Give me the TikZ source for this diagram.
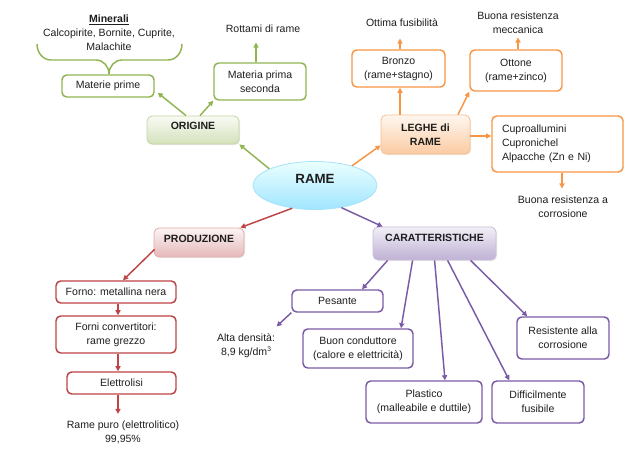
\documentclass[tikz,border=0pt]{standalone}
\usepackage{fontspec}
\setmainfont{Liberation Sans}
\usetikzlibrary{arrows.meta,calc,shapes.geometric,shadows}
\definecolor{txt}{HTML}{1E1E1E}
\definecolor{gr}{HTML}{92B553}
\definecolor{org}{HTML}{F79646}
\definecolor{rd}{HTML}{BE4446}
\definecolor{pu}{HTML}{7A5CA6}
\begin{document}
\begin{tikzpicture}[x=0.75pt,y=-0.75pt,
  every node/.style={text=txt, font=\fontsize{7.9}{10.5}\selectfont},
  sz/.style 2 args={minimum width=#1*0.75pt,minimum height=#2*0.75pt,inner sep=0pt},
  box/.style={draw, rounded corners=3.5pt, line width=1.1pt, align=center, fill=white},
  gbox/.style={box, draw=gr},
  obox/.style={box, draw=org},
  rbox/.style={box, draw=rd},
  pbox/.style={box, draw=pu},
  head/.style={rounded corners=3.8pt, line width=0.6pt, align=center,
    font=\fontsize{7.9}{10.5}\selectfont\bfseries,
    drop shadow={shadow xshift=0.8pt,shadow yshift=-0.8pt,opacity=0.18}},
  up/.style={text height=5.7pt,text depth=#1},
  lbl/.style={align=center, inner sep=1pt},
  arr/.style={line width=1.1pt, -{Triangle[length=3.8pt,width=3.8pt]}},
]
\useasboundingbox (0,0) rectangle (640,452);
\fill[white] (0,0) rectangle (640,452);

% central node
\node[ellipse, sz={124}{48}, draw=cyan!35!white, line width=0.6pt,
  top color=cyan!8!white, bottom color=cyan!30!white!90!blue,
  font=\fontsize{10}{12}\selectfont\bfseries, text height=7.2pt, text depth=10.5pt]
  (rame) at (315,185.5) {RAME};

% ORIGINE branch
\node[head, sz={92}{28}, up=5.7pt, draw=gr!55!white, top color=gr!6!white, bottom color=gr!40!white] (origine) at (193,130) {ORIGINE};
\node[gbox, sz={92}{22}] (matpri) at (108,86) {Materie prime};
\node[gbox, sz={92}{37}] (matsec) at (260,81.5) {Materia prima\\seconda};
\node[lbl] (minerali) at (109,33) {\underline{\textbf{Minerali}}\\Calcopirite, Bornite, Cuprite,\\Malachite};
\node[lbl] (rottami) at (263,29) {Rottami di rame};
\draw[gr, line width=1.1pt] (37,44) to[out=-90,in=180] (51,60) -- (96,60) to[out=0,in=90] (109,74)
  (182,44) to[out=-90,in=0] (168,60) -- (122,60) to[out=180,in=90] (109,74);

% LEGHE branch
\node[head, sz={89}{39}, draw=org!60!white, top color=org!8!white, bottom color=org!50!white] (leghe) at (425.5,134.5) {LEGHE di\\RAME};
\node[obox, sz={93}{37}] (bronzo) at (398.5,68.5) {Bronzo\\(rame+stagno)};
\node[obox, sz={92}{41}] (ottone) at (516,70.5) {Ottone\\(rame+zinco)};
\node[obox, minimum height=56*0.75pt, text width=83.25pt, inner xsep=7.5pt, inner ysep=0pt, align=left] (cupro) at (557.5,144) {Cuproallumini\\Cupronichel\\Alpacche (Zn e Ni)};
\node[lbl] (ottima) at (402,23) {Ottima fusibilità};
\node[lbl] (mecc) at (518,23) {Buona resistenza\\meccanica};
\node[lbl] (corr) at (563,207) {Buona resistenza a\\corrosione};

% PRODUZIONE branch
\node[head, sz={90}{29}, up=6pt, draw=rd!45!white, top color=rd!6!white, bottom color=rd!38!white] (prod) at (199,242.5) {PRODUZIONE};
\node[rbox, sz={120}{22}] (forno) at (116,292) {Forno: metallina nera};
\node[rbox, sz={120}{37}] (conv) at (116,334.5) {Forni convertitori:\\rame grezzo};
\node[rbox, sz={109}{22}] (elet) at (121.5,383) {Elettrolisi};
\node[lbl] (puro) at (123,432) {Rame puro (elettrolitico)\\99,95\%};

% CARATTERISTICHE branch
\node[head, sz={123}{33}, up=8.2pt, draw=pu!40!white, top color=pu!10!white, bottom color=pu!48!white] (car) at (434.5,243.5) {CARATTERISTICHE};
\node[pbox, sz={91}{22}] (pesante) at (337.5,301) {Pesante};
\node[pbox, sz={110}{39}] (buon) at (358,348.5) {Buon conduttore\\(calore e elettricità)};
\node[pbox, sz={116}{42}] (plast) at (424,402) {Plastico\\(malleabile e duttile)};
\node[pbox, sz={92}{42}] (diff) at (538,402) {Difficilmente\\fusibile};
\node[pbox, sz={92}{42}] (resist) at (563,338) {Resistente alla\\corrosione};
\node[lbl] (alta) at (246,346) {Alta densità:\\8,9 kg/dm\raisebox{3.2pt}{\fontsize{5}{5}\selectfont 3}};

% connectors: ORIGINE
\draw[arr, gr] (rame.160) -- (origine.south east);
\draw[arr, gr] ($(origine.north)+(-7,0)$) -- ($(matpri.south east)+(3,-5)$);
\draw[arr, gr] ($(origine.north)+(7,0)$) -- (matsec.south west);
\draw[arr, gr] ($(matsec.north)+(-4,0)$) -- ($(rottami.south)+(-7,8)$);

% connectors: LEGHE
\draw[arr, org] (rame.28) -- ($(leghe.south west)+(0,-9)$);
\draw[arr, org] ($(leghe.north)+(-25.5,0)$) -- ($(bronzo.south)+(1.5,0)$);
\draw[arr, org] ($(bronzo.north)+(1.5,0)$) -- ($(ottima.south)+(-2,10)$);
\draw[arr, org] ($(leghe.north)+(32.5,0)$) -- (ottone.south west);
\draw[arr, org] ($(ottone.north)+(2,0)$) -- ($(mecc.south)+(0,2)$);
\draw[arr, org] ($(leghe.east)+(0,1.5)$) -- ($(cupro.west)+(0,-8)$);
\draw[arr, org] ($(cupro.south)+(4.5,0)$) -- ($(corr.north)+(-1,-6)$);

% connectors: PRODUZIONE
\draw[arr, rd] (rame.225) -- ($(prod.north east)+(-4,0)$);
\draw[arr, rd] ($(prod.south west)+(1,-8)$) -- ($(forno.north)+(7,0)$);
\draw[arr, rd] ($(forno.south)+(2,0)$) -- ($(conv.north)+(2,0)$);
\draw[arr, rd] ($(conv.south)+(2,0)$) -- ($(elet.north)+(-3.5,0)$);
\draw[arr, rd] ($(elet.south)+(-3.5,0)$) -- ($(puro.north)+(-5,-5)$);

% connectors: CARATTERISTICHE
\draw[arr, pu] (rame.-40) -- ($(car.north west)+(10,0)$);
\draw[arr, pu] ($(car.south west)+(15,0)$) -- ($(pesante.north)+(24.5,0)$);
\draw[arr, pu] ($(car.south west)+(40,0)$) -- ($(buon.north)+(43,0)$);
\draw[arr, pu] ($(car.south west)+(62,0)$) -- ($(plast.north)+(21,0)$);
\draw[arr, pu] ($(car.south west)+(75,0)$) -- ($(diff.north west)+(18,0)$);
\draw[arr, pu] ($(car.south west)+(98,0)$) -- ($(resist.north west)+(11,0)$);
\draw[arr, pu] (pesante.south west) -- ($(alta.north east)+(0,-6)$);
\end{tikzpicture}
\end{document}
